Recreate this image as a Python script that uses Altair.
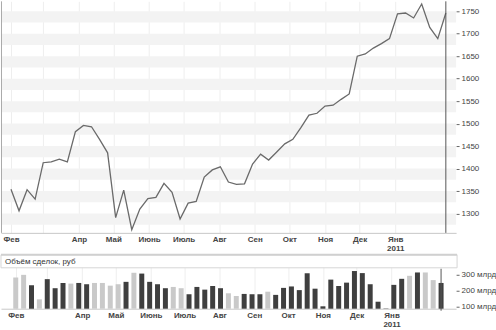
import altair as alt
import pandas as pd

# ---- data (weekly, MICEX-like index) ----
dates = pd.date_range("2010-02-01", periods=55, freq="7D").strftime("%Y-%m-%d").tolist()
price = [1354, 1306, 1353, 1332, 1413, 1415, 1421, 1415, 1482, 1496,
         1493, 1465, 1435, 1291, 1352, 1264, 1310, 1333, 1336, 1367,
         1347, 1288, 1323, 1327, 1381, 1397, 1404, 1370, 1365, 1366,
         1410, 1432, 1419, 1437, 1455, 1465, 1491, 1519, 1523, 1539,
         1541, 1554, 1566, 1650, 1655, 1668, 1678, 1689, 1744, 1746,
         1735, 1766, 1714, 1689, 1746]
volume = [281, 298, 233, 144, 271, 214, 247, 243, 247, 239,
          247, 247, 230, 239, 254, 311, 306, 254, 239, 214,
          222, 214, 176, 222, 205, 228, 214, 182, 165, 178,
          176, 176, 192, 172, 216, 225, 202, 308, 211, 100,
          268, 228, 249, 322, 309, 239, 129, 87, 235, 273,
          292, 313, 313, 265, 247]
price_ticks = [1300, 1350, 1400, 1450, 1500, 1550, 1600, 1650, 1700, 1750]
band_starts = [1275, 1325, 1375, 1425, 1475, 1525, 1575, 1625, 1675, 1725]
volume_ticks = [100, 200, 300]
month_labels = ["Янв", "Фев", "", "Апр", "Май", "Июнь", "Июль", "Авг", "Сен", "Окт", "Ноя", "Дек"]
month_starts = pd.date_range("2010-02-01", periods=12, freq="MS")
volume_title = "Объём сделок, руб"

df = pd.DataFrame({"date": dates, "price": price, "volume": volume})
df["dir"] = ["up" if i > 0 and price[i] > price[i - 1] else "down" for i in range(len(price))]
bands = pd.DataFrame({"y0": band_starts, "y1": [b + 25 for b in band_starts]})

base0 = pd.Timestamp("2010-02-01")
x_domain = [int((base0 - pd.Timedelta(days=8.675)).value // 10**6),
            int((base0 + pd.Timedelta(days=386.9)).value // 10**6)]
tick_ms = [int(t.value // 10**6) for t in month_starts]

labels_js = "[" + ",".join("'" + m + "'" for m in month_labels) + "]"
label_expr = ("utcmonth(datum.value)==0 ? ['" + month_labels[0] + "', '' + utcyear(datum.value)] : "
              + labels_js + "[utcmonth(datum.value)]")

W = 456
FONT = "Liberation Sans"
TXT = "#444444"

xscale = alt.Scale(type="utc", domain=x_domain)


def xaxis():
    return alt.Axis(values=tick_ms, labelExpr=label_expr, title=None, tickSize=0,
                    labelPadding=3, labelFontSize=8, labelFont=FONT, labelColor=TXT,
                    labelFontWeight="bold", grid=True, gridColor="#eeeeee",
                    domainColor="#c8c8c8", labelLineHeight=9, labelOverlap=False)


def yaxis(values, expr=None):
    kw = dict(orient="right", values=values, title=None, tickSize=3, tickColor="#666",
              labelPadding=2, domain=False, grid=False, labelFontSize=8, labelFont=FONT,
              labelColor=TXT, labelOverlap=False, labelBound=False)
    if expr:
        kw["labelExpr"] = expr
    else:
        kw["format"] = "d"
    return alt.Axis(**kw)


# ---- top price panel ----
yscale = alt.Scale(domain=[1257, 1772], zero=False, nice=False)
y_axis_top = yaxis(price_ticks)

band_layer = alt.Chart(bands).mark_rect(color="#f3f3f3").encode(
    x=alt.value(0), x2=alt.value(W),
    y=alt.Y("y0:Q", scale=yscale, axis=y_axis_top), y2="y1:Q")

line_layer = alt.Chart(df).mark_line(color="#6a6a6a", strokeWidth=1.3).encode(
    x=alt.X("date:T", scale=xscale, axis=xaxis()),
    y=alt.Y("price:Q", scale=yscale, axis=y_axis_top))

last_rule = alt.Chart(df.tail(1)).mark_rule(color="#555555", strokeWidth=1).encode(
    x=alt.X("date:T", scale=xscale, axis=xaxis()), y=alt.value(0), y2=alt.value(232))

left_border = alt.Chart(df.tail(1)).mark_rule(color="#aaaaaa").encode(
    x=alt.value(0.5), y=alt.value(0), y2=alt.value(232))

top = alt.layer(band_layer, line_layer, last_rule, left_border).properties(width=W, height=232)

# ---- volume panel ----
vscale = alt.Scale(domain=[85, 424], zero=False, nice=False)

header_box = alt.Chart(pd.DataFrame({"t": [volume_title]})).mark_rect(
    fill="white", stroke="#d6d6d6", strokeWidth=1).encode(
    x=alt.value(0), x2=alt.value(W + 1), y=alt.value(0), y2=alt.value(13))
header_top = alt.Chart(pd.DataFrame({"t": [volume_title]})).mark_rule(
    color="#d0d0d0", strokeWidth=2).encode(
    x=alt.value(0), x2=alt.value(W + 1), y=alt.value(0))
header_text = alt.Chart(pd.DataFrame({"t": [volume_title]})).mark_text(
    align="left", baseline="middle", fontSize=8, font=FONT, color="#333333").encode(
    x=alt.value(4), y=alt.value(7), text="t:N")

bars = alt.Chart(df).mark_bar(size=5).encode(
    x=alt.X("date:T", scale=xscale, axis=xaxis()),
    y=alt.Y("volume:Q", scale=vscale, axis=yaxis(volume_ticks, "datum.value + ' млрд'")),
    y2=alt.datum(85),
    color=alt.Color("dir:N", scale=alt.Scale(domain=["up", "down"], range=["#3f3f3f", "#c9c9c9"]),
                    legend=None))

vol_rule = alt.Chart(df.tail(1)).mark_rule(color="#555555", strokeWidth=1).encode(
    x=alt.X("date:T", scale=xscale, axis=xaxis()), y=alt.value(14), y2=alt.value(56))

bottom = alt.layer(header_box, bars, vol_rule, header_top, header_text).properties(width=W, height=54)

chart = alt.vconcat(top, bottom, spacing=22, bounds="flush").properties(
    padding=0, background="white"
).configure_view(stroke=None)

chart.save("out.html", embed_options={"renderer": "svg", "actions": False})
